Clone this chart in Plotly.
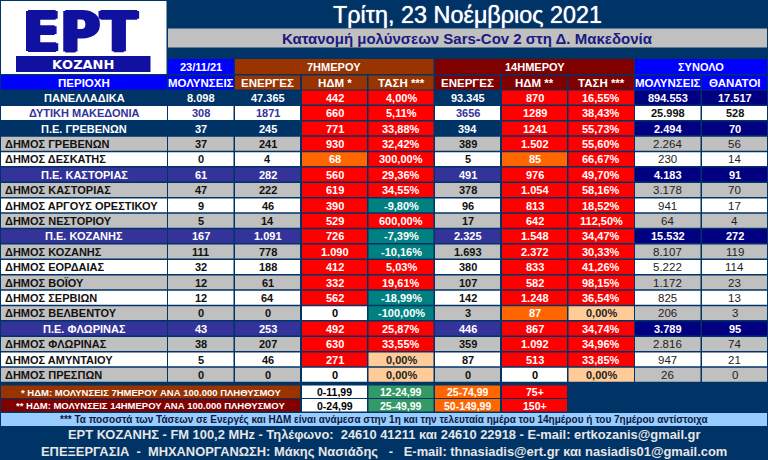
import plotly.graph_objects as go

# table values
regions = ['ΠΑΝΕΛΛΑΔΙΚΑ', 'ΔΥΤΙΚΗ ΜΑΚΕΔΟΝΙΑ', 'Π.Ε. ΓΡΕΒΕΝΩΝ', 'ΔΗΜΟΣ ΓΡΕΒΕΝΩΝ', 'ΔΗΜΟΣ ΔΕΣΚΑΤΗΣ',
           'Π.Ε. ΚΑΣΤΟΡΙΑΣ', 'ΔΗΜΟΣ ΚΑΣΤΟΡΙΑΣ', 'ΔΗΜΟΣ ΑΡΓΟΥΣ ΟΡΕΣΤΙΚΟΥ', 'ΔΗΜΟΣ ΝΕΣΤΟΡΙΟΥ',
           'Π.Ε. ΚΟΖΑΝΗΣ', 'ΔΗΜΟΣ ΚΟΖΑΝΗΣ', 'ΔΗΜΟΣ ΕΟΡΔΑΙΑΣ', 'ΔΗΜΟΣ ΒΟΪΟΥ', 'ΔΗΜΟΣ ΣΕΡΒΙΩΝ', 'ΔΗΜΟΣ ΒΕΛΒΕΝΤΟΥ',
           'Π.Ε. ΦΛΩΡΙΝΑΣ', 'ΔΗΜΟΣ ΦΛΩΡΙΝΑΣ', 'ΔΗΜΟΣ ΑΜΥΝΤΑΙΟΥ', 'ΔΗΜΟΣ ΠΡΕΣΠΩΝ']
cases = ['8.098', '308', '37', '37', '0', '61', '47', '9', '5', '167', '111', '32', '12', '12', '0', '43', '38', '5', '0']
active_7 = ['47.365', '1871', '245', '241', '4', '282', '222', '46', '14', '1.091', '778', '188', '61', '64', '0', '253', '207', '46', '0']
hdm_7 = ['442', '660', '771', '930', '68', '560', '619', '390', '529', '726', '1.090', '412', '332', '562', '0', '492', '630', '271', '0']
trend_7 = ['4,00%', '5,11%', '33,88%', '32,42%', '300,00%', '29,36%', '34,55%', '-9,80%', '600,00%', '-7,39%',
           '-10,16%', '5,03%', '19,61%', '-18,99%', '-100,00%', '25,87%', '33,55%', '0,00%', '0,00%']
active_14 = ['93.345', '3656', '394', '389', '5', '491', '378', '96', '17', '2.325', '1.693', '380', '107', '142', '3', '446', '359', '87', '0']
hdm_14 = ['870', '1289', '1241', '1.502', '85', '976', '1.054', '813', '642', '1.548', '2.372', '833', '582', '1.248', '87', '867', '1.092', '513', '0']
trend_14 = ['16,55%', '38,43%', '55,73%', '55,60%', '66,67%', '49,70%', '58,16%', '18,52%', '112,50%', '34,47%',
            '30,33%', '41,26%', '98,15%', '36,54%', '0,00%', '34,74%', '34,96%', '33,85%', '0,00%']
total_cases = ['894.553', '25.998', '2.494', '2.264', '230', '4.183', '3.178', '941', '64', '15.532', '8.107', '5.222', '1.172', '825', '206', '3.789', '2.816', '947', '26']
total_deaths = ['17.517', '528', '70', '56', '14', '91', '70', '17', '4', '272', '119', '114', '23', '13', '3', '95', '74', '21', '0']

column_titles = ['ΠΕΡΙΟΧΗ', 'ΜΟΛΥΝΣΕΙΣ', 'ΕΝΕΡΓΕΣ', 'ΗΔΜ *', 'ΤΑΣΗ ***', 'ΕΝΕΡΓΕΣ', 'ΗΔΜ **', 'ΤΑΣΗ ***', 'ΜΟΛΥΝΣΕΙΣ', 'ΘΑΝΑΤΟΙ']
legend_7 = ['* ΗΔΜ: ΜΟΛΥΝΣΕΙΣ 7ΗΜΕΡΟΥ ΑΝΑ 100.000 ΠΛΗΘΥΣΜΟΥ', '0-11,99', '12-24,99', '25-74,99', '75+']
legend_14 = ['** ΗΔΜ: ΜΟΛΥΝΣΕΙΣ 14ΗΜΕΡΟΥ ΑΝΑ 100.000 ΠΛΗΘΥΣΜΟΥ', '0-24,99', '25-49,99', '50-149,99', '150+']

BG = '#003366'
BROWN = '#993300'
MAROON = '#800000'
BLUE = '#0000ff'
NAVY = '#000080'
INDIGO = '#333399'
GRAY = '#c0c0c0'
RED = '#ff0000'
ORANGE = '#ff6600'
TEAL = '#008080'
PEACH = '#ffcc99'
GREEN = '#339966'
LOGO = '#1111a0'
FONT = 'Liberation Sans'

col_left = [1, 168, 235, 302, 368.5, 435, 502, 568.5, 635, 702]
col_right = [167, 233.5, 300, 367, 433.5, 500, 567, 634, 700.5, 767]
ROW_TOP = 90.6
ROW_STEP = 15.4
ROW_H = 13.9

shapes = []
annotations = []


def rect(x0, x1, y0, y1, color):
    shapes.append(dict(type='rect', xref='x', yref='y', x0=x0, x1=x1, y0=y0, y1=y1,
                       fillcolor=color, line_width=0, layer='below'))


def label(x, y, text, color='white', size=11, bold=True, anchor='center', family=FONT, shadow=None):
    font = dict(family=family, size=size, color=color, weight=700 if bold else 400)
    if shadow:
        font['shadow'] = shadow
    annotations.append(dict(x=x, y=y, xref='x', yref='y', text=text, showarrow=False, xanchor=anchor, yanchor='middle',
                            font=font))


def cell(x0, x1, y0, y1, text, fill, color='white', size=11, bold=True):
    rect(x0, x1, y0, y1, fill)
    label((x0 + x1) / 2, (y0 + y1) / 2 + 0.3, text, color, size, bold)


def number(text):
    return float(text.replace('.', '').replace(',', '.').replace('%', ''))


def hdm_fill(text, red_from):
    value = number(text)
    if value == 0:
        return 'white', 'black'
    return (ORANGE if value < red_from else RED), 'white'


def trend_fill(text):
    value = number(text)
    if value == 0:
        return PEACH, '#222222'
    return (TEAL if value < 0 else RED), 'white'


# logo block
rect(1, 166.5, 1, 74, 'white')
label(79.5, 32, 'ΕΡΤ', LOGO, 54.5, True, family='DejaVu Sans',
      shadow='2px 0 0 %s, -2px 0 0 %s, 0 1px 0 %s, 0 -1px 0 %s' % (LOGO, LOGO, LOGO, LOGO))
rect(16, 150.5, 56, 72, LOGO)
label(83, 64.2, 'ΚΟΖΑΝΗ', 'white', 13, True, family='DejaVu Sans')

# titles
label(467, 15, 'Τρίτη, 23 Νοέμβριος 2021', 'white', 23.4, False, shadow='0 0 1px #ffffff')
cell(168, 767, 28.5, 47.5, 'Κατανομή μολύνσεων Sars-Cov 2 στη Δ. Μακεδονία', GRAY, '#1a1a80', 15)

# header rows
cell(col_left[1], col_right[1], 59, 74, '23/11/21', BLUE)
cell(col_left[2], col_right[4], 59, 74, '7ΗΜΕΡΟΥ', BROWN)
cell(col_left[5], col_right[7], 59, 74, '14ΗΜΕΡΟΥ', MAROON)
cell(col_left[8], col_right[9], 59, 74, 'ΣΥΝΟΛΟ', BLUE)
header_fills = [BLUE, BLUE, BROWN, BROWN, BROWN, MAROON, MAROON, MAROON, BLUE, BLUE]
for i, title in enumerate(column_titles):
    cell(col_left[i], col_right[i], 75.5, 89.5, title, header_fills[i], size=11.5)

# body rows
columns = [cases, active_7, hdm_7, trend_7, active_14, hdm_14, trend_14, total_cases, total_deaths]
white_rows = ('ΔΗΜΟΣ ΔΕΣΚΑΤΗΣ', 'ΔΗΜΟΣ ΑΡΓΟΥΣ ΟΡΕΣΤΙΚΟΥ', 'ΔΗΜΟΣ ΕΟΡΔΑΙΑΣ', 'ΔΗΜΟΣ ΣΕΡΒΙΩΝ', 'ΔΗΜΟΣ ΑΜΥΝΤΑΙΟΥ')
for r, region in enumerate(regions):
    y0 = ROW_TOP + r * ROW_STEP
    y1 = y0 + ROW_H
    is_unit = region.startswith('Π.Ε.')
    is_top = r < 2
    dark = BG if r == 0 or r == 2 else INDIGO
    shade = 'white' if region in white_rows else GRAY

    if r == 1:
        cell(col_left[0], col_right[0], y0, y1, region, 'white', INDIGO)
    elif r == 0 or is_unit:
        cell(col_left[0], col_right[0], y0, y1, region, dark)
    else:
        rect(col_left[0], col_right[0], y0, y1, shade)
        label(col_left[0] + 1.5, (y0 + y1) / 2 + 0.3, region, '#111111', 11, True, 'left')

    for c, values in enumerate(columns, start=1):
        text = values[r]
        bold = True
        size = 11
        if values is hdm_7:
            fill, color = hdm_fill(text, 75)
        elif values is hdm_14:
            fill, color = hdm_fill(text, 150)
        elif values is trend_7 or values is trend_14:
            fill, color = trend_fill(text)
        elif r == 1:
            fill = 'white'
            color = '#111111' if c >= 8 else INDIGO
        elif is_top or is_unit:
            fill = NAVY if c >= 8 else dark
            color = 'white'
        else:
            fill = shade
            color = '#222222' if c >= 8 else '#111111'
            bold = c < 8
            if c >= 8:
                size = 11.5
        cell(col_left[c], col_right[c], y0, y1, text, fill, color, size, bold)

# legend rows
legend_fills = [None, 'white', GREEN, ORANGE, RED]
for y0, y1, texts, fill in [(385.5, 398, legend_7, BROWN), (399, 411.5, legend_14, MAROON)]:
    cell(col_left[0], col_right[2], y0, y1, texts[0], fill, 'white', 9.5)
    for i, text in enumerate(texts[1:], start=1):
        c = i + 2
        cell(col_left[c], col_right[c], y0, y1, text, legend_fills[i], 'black' if i == 1 else 'white', 10.5)

# notes and footer
cell(1, 767, 413, 426, '*** Τα ποσοστά των Τάσεων σε Ενεργές και ΗΔΜ είναι ανάμεσα στην 1η και την τελευταία ημέρα του 14ημέρου ή του 7ημέρου αντίστοιχα',
     '#99ccff', '#0a1a40', 10)
label(384.5, 434.5, 'ΕΡΤ ΚΟΖΑΝΗΣ - FM 100,2 MHz - Τηλέφωνο:  24610 41211 και 24610 22918 - E-mail: ertkozanis@gmail.gr',
      '#e6e6e6', 12.9)
label(384, 451.5, 'ΕΠΕΞΕΡΓΑΣΙΑ  -  ΜΗΧΑΝΟΡΓΑΝΩΣΗ: Μάκης Νασιάδης   -   E-mail: thnasiadis@ert.gr και nasiadis01@gmail.com',
      '#e6e6e6', 12.9)

fig = go.Figure(go.Scatter(x=[], y=[]))
fig.update_layout(width=768, height=460, autosize=False, margin=dict(l=0, r=0, t=0, b=0),
                  paper_bgcolor=BG, plot_bgcolor=BG, showlegend=False,
                  shapes=shapes, annotations=annotations)
fig.update_xaxes(range=[0, 768], visible=False, fixedrange=True)
fig.update_yaxes(range=[460, 0], visible=False, fixedrange=True)

fig.write_html("out.html", config={'displayModeBar': False},
               post_script="document.body.style.margin='0';")
